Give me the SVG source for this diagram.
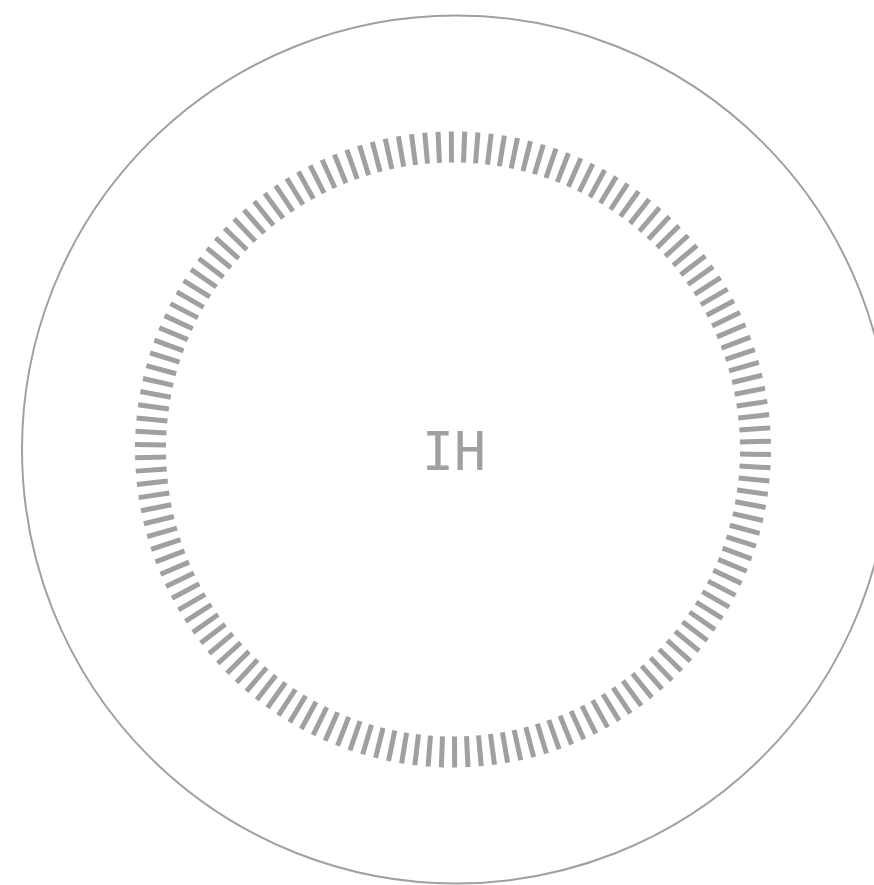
<svg xmlns="http://www.w3.org/2000/svg" xmlns:xlink="http://www.w3.org/1999/xlink" width="874" height="885" viewBox="0 0 874 885">
<style>
.outer{fill:none;stroke:#a0a0a0;stroke-width:2}
.tick{fill:#a0a0a0}
.label{font-family:"DejaVu Sans Mono",monospace;font-size:53px;fill:#a0a0a0;text-anchor:middle}
</style>
<defs>
<rect id="t" class="tick" x="-2.5" y="-318" width="5" height="31"/>
</defs>
<rect width="874" height="885" fill="#ffffff"/>
<g id="outer-circle"><circle class="outer" cx="456" cy="449.5" r="434"/></g>
<g id="ring" transform="translate(453,449.5) rotate(-0.3)">
<use xlink:href="#t" transform="rotate(0)"/><use xlink:href="#t" transform="rotate(2.4)"/><use xlink:href="#t" transform="rotate(4.8)"/><use xlink:href="#t" transform="rotate(7.2)"/><use xlink:href="#t" transform="rotate(9.6)"/><use xlink:href="#t" transform="rotate(12)"/><use xlink:href="#t" transform="rotate(14.4)"/><use xlink:href="#t" transform="rotate(16.8)"/><use xlink:href="#t" transform="rotate(19.2)"/><use xlink:href="#t" transform="rotate(21.6)"/>
<use xlink:href="#t" transform="rotate(24)"/><use xlink:href="#t" transform="rotate(26.4)"/><use xlink:href="#t" transform="rotate(28.8)"/><use xlink:href="#t" transform="rotate(31.2)"/><use xlink:href="#t" transform="rotate(33.6)"/><use xlink:href="#t" transform="rotate(36)"/><use xlink:href="#t" transform="rotate(38.4)"/><use xlink:href="#t" transform="rotate(40.8)"/><use xlink:href="#t" transform="rotate(43.2)"/><use xlink:href="#t" transform="rotate(45.6)"/>
<use xlink:href="#t" transform="rotate(48)"/><use xlink:href="#t" transform="rotate(50.4)"/><use xlink:href="#t" transform="rotate(52.8)"/><use xlink:href="#t" transform="rotate(55.2)"/><use xlink:href="#t" transform="rotate(57.6)"/><use xlink:href="#t" transform="rotate(60)"/><use xlink:href="#t" transform="rotate(62.4)"/><use xlink:href="#t" transform="rotate(64.8)"/><use xlink:href="#t" transform="rotate(67.2)"/><use xlink:href="#t" transform="rotate(69.6)"/>
<use xlink:href="#t" transform="rotate(72)"/><use xlink:href="#t" transform="rotate(74.4)"/><use xlink:href="#t" transform="rotate(76.8)"/><use xlink:href="#t" transform="rotate(79.2)"/><use xlink:href="#t" transform="rotate(81.6)"/><use xlink:href="#t" transform="rotate(84)"/><use xlink:href="#t" transform="rotate(86.4)"/><use xlink:href="#t" transform="rotate(88.8)"/><use xlink:href="#t" transform="rotate(91.2)"/><use xlink:href="#t" transform="rotate(93.6)"/>
<use xlink:href="#t" transform="rotate(96)"/><use xlink:href="#t" transform="rotate(98.4)"/><use xlink:href="#t" transform="rotate(100.8)"/><use xlink:href="#t" transform="rotate(103.2)"/><use xlink:href="#t" transform="rotate(105.6)"/><use xlink:href="#t" transform="rotate(108)"/><use xlink:href="#t" transform="rotate(110.4)"/><use xlink:href="#t" transform="rotate(112.8)"/><use xlink:href="#t" transform="rotate(115.2)"/><use xlink:href="#t" transform="rotate(117.6)"/>
<use xlink:href="#t" transform="rotate(120)"/><use xlink:href="#t" transform="rotate(122.4)"/><use xlink:href="#t" transform="rotate(124.8)"/><use xlink:href="#t" transform="rotate(127.2)"/><use xlink:href="#t" transform="rotate(129.6)"/><use xlink:href="#t" transform="rotate(132)"/><use xlink:href="#t" transform="rotate(134.4)"/><use xlink:href="#t" transform="rotate(136.8)"/><use xlink:href="#t" transform="rotate(139.2)"/><use xlink:href="#t" transform="rotate(141.6)"/>
<use xlink:href="#t" transform="rotate(144)"/><use xlink:href="#t" transform="rotate(146.4)"/><use xlink:href="#t" transform="rotate(148.8)"/><use xlink:href="#t" transform="rotate(151.2)"/><use xlink:href="#t" transform="rotate(153.6)"/><use xlink:href="#t" transform="rotate(156)"/><use xlink:href="#t" transform="rotate(158.4)"/><use xlink:href="#t" transform="rotate(160.8)"/><use xlink:href="#t" transform="rotate(163.2)"/><use xlink:href="#t" transform="rotate(165.6)"/>
<use xlink:href="#t" transform="rotate(168)"/><use xlink:href="#t" transform="rotate(170.4)"/><use xlink:href="#t" transform="rotate(172.8)"/><use xlink:href="#t" transform="rotate(175.2)"/><use xlink:href="#t" transform="rotate(177.6)"/><use xlink:href="#t" transform="rotate(180)"/><use xlink:href="#t" transform="rotate(182.4)"/><use xlink:href="#t" transform="rotate(184.8)"/><use xlink:href="#t" transform="rotate(187.2)"/><use xlink:href="#t" transform="rotate(189.6)"/>
<use xlink:href="#t" transform="rotate(192)"/><use xlink:href="#t" transform="rotate(194.4)"/><use xlink:href="#t" transform="rotate(196.8)"/><use xlink:href="#t" transform="rotate(199.2)"/><use xlink:href="#t" transform="rotate(201.6)"/><use xlink:href="#t" transform="rotate(204)"/><use xlink:href="#t" transform="rotate(206.4)"/><use xlink:href="#t" transform="rotate(208.8)"/><use xlink:href="#t" transform="rotate(211.2)"/><use xlink:href="#t" transform="rotate(213.6)"/>
<use xlink:href="#t" transform="rotate(216)"/><use xlink:href="#t" transform="rotate(218.4)"/><use xlink:href="#t" transform="rotate(220.8)"/><use xlink:href="#t" transform="rotate(223.2)"/><use xlink:href="#t" transform="rotate(225.6)"/><use xlink:href="#t" transform="rotate(228)"/><use xlink:href="#t" transform="rotate(230.4)"/><use xlink:href="#t" transform="rotate(232.8)"/><use xlink:href="#t" transform="rotate(235.2)"/><use xlink:href="#t" transform="rotate(237.6)"/>
<use xlink:href="#t" transform="rotate(240)"/><use xlink:href="#t" transform="rotate(242.4)"/><use xlink:href="#t" transform="rotate(244.8)"/><use xlink:href="#t" transform="rotate(247.2)"/><use xlink:href="#t" transform="rotate(249.6)"/><use xlink:href="#t" transform="rotate(252)"/><use xlink:href="#t" transform="rotate(254.4)"/><use xlink:href="#t" transform="rotate(256.8)"/><use xlink:href="#t" transform="rotate(259.2)"/><use xlink:href="#t" transform="rotate(261.6)"/>
<use xlink:href="#t" transform="rotate(264)"/><use xlink:href="#t" transform="rotate(266.4)"/><use xlink:href="#t" transform="rotate(268.8)"/><use xlink:href="#t" transform="rotate(271.2)"/><use xlink:href="#t" transform="rotate(273.6)"/><use xlink:href="#t" transform="rotate(276)"/><use xlink:href="#t" transform="rotate(278.4)"/><use xlink:href="#t" transform="rotate(280.8)"/><use xlink:href="#t" transform="rotate(283.2)"/><use xlink:href="#t" transform="rotate(285.6)"/>
<use xlink:href="#t" transform="rotate(288)"/><use xlink:href="#t" transform="rotate(290.4)"/><use xlink:href="#t" transform="rotate(292.8)"/><use xlink:href="#t" transform="rotate(295.2)"/><use xlink:href="#t" transform="rotate(297.6)"/><use xlink:href="#t" transform="rotate(300)"/><use xlink:href="#t" transform="rotate(302.4)"/><use xlink:href="#t" transform="rotate(304.8)"/><use xlink:href="#t" transform="rotate(307.2)"/><use xlink:href="#t" transform="rotate(309.6)"/>
<use xlink:href="#t" transform="rotate(312)"/><use xlink:href="#t" transform="rotate(314.4)"/><use xlink:href="#t" transform="rotate(316.8)"/><use xlink:href="#t" transform="rotate(319.2)"/><use xlink:href="#t" transform="rotate(321.6)"/><use xlink:href="#t" transform="rotate(324)"/><use xlink:href="#t" transform="rotate(326.4)"/><use xlink:href="#t" transform="rotate(328.8)"/><use xlink:href="#t" transform="rotate(331.2)"/><use xlink:href="#t" transform="rotate(333.6)"/>
<use xlink:href="#t" transform="rotate(336)"/><use xlink:href="#t" transform="rotate(338.4)"/><use xlink:href="#t" transform="rotate(340.8)"/><use xlink:href="#t" transform="rotate(343.2)"/><use xlink:href="#t" transform="rotate(345.6)"/><use xlink:href="#t" transform="rotate(348)"/><use xlink:href="#t" transform="rotate(350.4)"/><use xlink:href="#t" transform="rotate(352.8)"/><use xlink:href="#t" transform="rotate(355.2)"/><use xlink:href="#t" transform="rotate(357.6)"/>
</g>
<g id="label"><text class="label" x="454" y="470">IH</text></g>
</svg>
